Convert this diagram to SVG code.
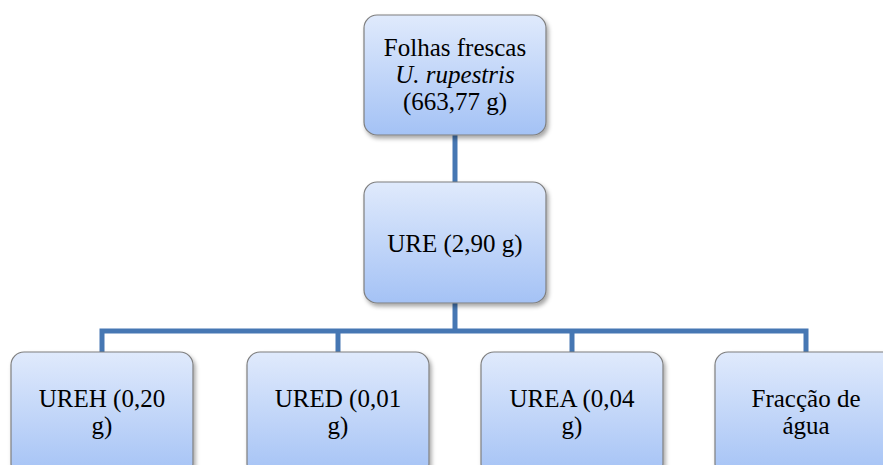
<svg xmlns="http://www.w3.org/2000/svg" width="883" height="465" viewBox="0 0 883 465">
<defs>
<linearGradient id="g" x1="0" y1="0" x2="0" y2="1">
<stop offset="0" stop-color="#e0eafc"/>
<stop offset="1" stop-color="#a4c2f5"/>
</linearGradient>
<filter id="sh" x="-10%" y="-10%" width="130%" height="130%">
<feDropShadow dx="2" dy="3" stdDeviation="2.2" flood-color="#000" flood-opacity="0.35"/>
</filter>
</defs>
<style>
.box{fill:url(#g);stroke:#7f7f7f;stroke-width:1.2;filter:url(#sh)}
.t{font-family:'Liberation Serif','Times New Roman',serif;font-size:25px;fill:#000;text-anchor:middle}
.c{fill:none;stroke:#4677b3;stroke-width:5}
</style>
<rect width="883" height="465" fill="#fff"/>
<g id="connectors">
<path class="c" d="M455,135V182"/>
<path class="c" d="M455,303V331"/>
<path class="c" d="M102,352V331H806V352"/>
<path class="c" d="M338,331V352"/>
<path class="c" d="M572,331V352"/>
</g>
<g id="n-folhas">
<rect class="box" x="364" y="15" width="182" height="120" rx="13"/>
<text class="t" x="455" y="56">Folhas frescas</text>
<text class="t" x="455" y="83" font-style="italic">U. rupestris</text>
<text class="t" x="455" y="110">(663,77 g)</text>
</g>
<g id="n-ure">
<rect class="box" x="364" y="182" width="182" height="121" rx="13"/>
<text class="t" x="455" y="252">URE (2,90 g)</text>
</g>
<g id="n-ureh">
<rect class="box" x="11" y="352" width="182" height="125" rx="13"/>
<text class="t" x="102" y="407">UREH (0,20</text>
<text class="t" x="102" y="434">g)</text>
</g>
<g id="n-ured">
<rect class="box" x="247" y="352" width="182" height="125" rx="13"/>
<text class="t" x="338" y="407">URED (0,01</text>
<text class="t" x="338" y="434">g)</text>
</g>
<g id="n-urea">
<rect class="box" x="481" y="352" width="182" height="125" rx="13"/>
<text class="t" x="572" y="407">UREA (0,04</text>
<text class="t" x="572" y="434">g)</text>
</g>
<g id="n-agua">
<rect class="box" x="715" y="352" width="182" height="125" rx="13"/>
<text class="t" x="806" y="407">Fracção de</text>
<text class="t" x="806" y="434">água</text>
</g>
</svg>
